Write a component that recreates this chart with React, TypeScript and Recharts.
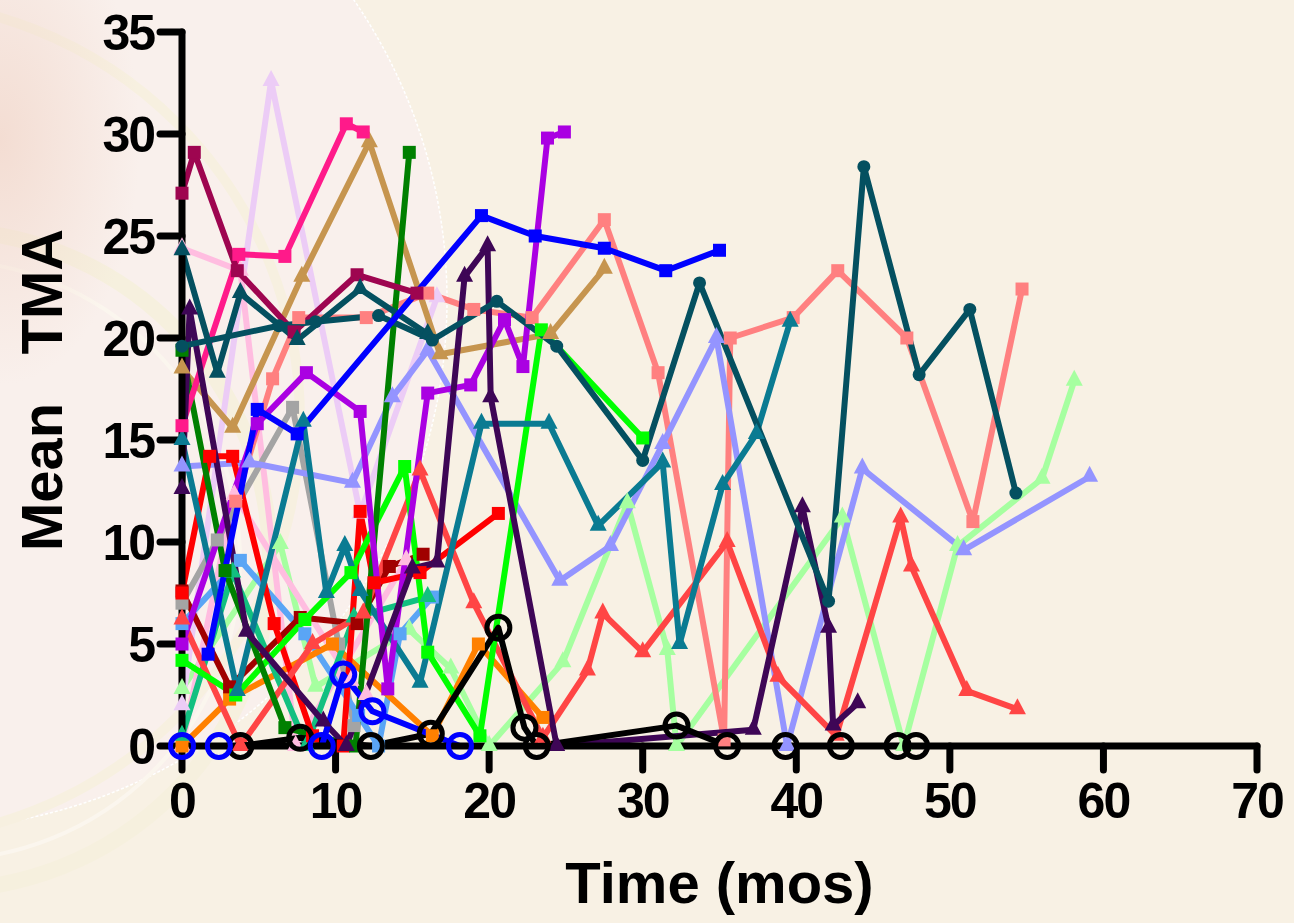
import React from 'react';
import { LineChart, Line, XAxis, YAxis, Label } from 'recharts';

type P = [number, number];

const xTicks = [0, 10, 20, 30, 40, 50, 60, 70];
const yTicks = [0, 5, 10, 15, 20, 25, 30, 35];
const xTitle = 'Time (mos)';
const yTitle = 'Mean\u00a0\u00a0\u00a0TMA';

// series values [time (mos), mean TMA]
const lightGreenTri: P[] = [[0, 2.8], [6.4, 9.9], [8.7, 2.9], [14.8, 5.7], [17.5, 3.8], [20, 0], [24.8, 4.1], [29, 11.9], [31.6, 4.7], [32.2, 0], [43, 11.2], [47, 0], [50.5, 9.8], [56, 13.1], [58.1, 17.9]];
const lavenderTri: P[] = [[0, 2], [5.8, 32.6], [11.6, 11.4], [16.6, 22]];
const lightPinkTriA: P[] = [[0, 24.4], [3.8, 23.3], [7.4, 0], [14.6, 9.1]];
const lightPinkTriB: P[] = [[0, 0], [3.4, 12.3], [11, 3.2], [12, 2.5]];
const grayHex: P[] = [[0, 7], [2.3, 10.1], [7.2, 16.6], [10.2, 5], [11.2, 1]];
const salmonSq: P[] = [[3.5, 12], [5.9, 18], [7.6, 21], [12, 21], [16, 22.2], [19, 21.4], [22.8, 21], [27.5, 25.8], [31, 18.3], [35.3, 0.3], [35.7, 20], [39.8, 21], [42.7, 23.3], [47.2, 20], [51.5, 11], [54.7, 22.4]];
const periwinkleTri: P[] = [[0, 13.7], [4.4, 13.9], [11.1, 12.9], [13.7, 17.1], [16, 19.4], [24.6, 8.1], [27.9, 9.8], [31.3, 14.8], [34.8, 20], [39.4, 0], [44.3, 13.6], [50.9, 9.6], [59.1, 13.2]];
const skyBlueSq: P[] = [[0, 6], [3.8, 9.1], [8, 5.5], [11.5, 1.5], [12.8, 0], [14.2, 5.5], [16.3, 7.3]];
const orangeSq: P[] = [[0, 0], [3.1, 2.3], [9.8, 5], [16.3, 0.5], [19.3, 5], [23.5, 1.4]];
const seaGreenTri: P[] = [[0, 0.5], [3.3, 8.5], [8.1, 0], [11.2, 6.3], [16, 7.3]];
const darkRedSq: P[] = [[0, 7.6], [3.1, 2.9], [7.7, 6.3], [11.4, 6], [13.5, 8.8], [15.7, 9.4]];
const redSq: P[] = [[0, 7.5], [1.8, 14.2], [3.3, 14.2], [6, 6], [8.5, 0.5], [10.5, 0], [11.6, 11.5], [12.5, 8], [15.5, 8.5], [20.6, 11.4]];
const coralTri: P[] = [[0, 6.2], [3.8, 0], [8.5, 5], [11.8, 6.5], [15.5, 13.5], [19, 7], [23.5, 0.4], [26.4, 3.7], [27.4, 6.5], [30, 4.6], [35.5, 10], [38.8, 3.4], [42.6, 0.5], [46.8, 11.2], [47.5, 8.8], [51.1, 2.7], [54.4, 1.8]];
const brightGreenSq: P[] = [[0, 4.2], [3.5, 2.5], [8, 6.2], [11, 8.5], [14.5, 13.7], [16, 4.6], [19.4, 0.5], [23.4, 20.4], [30, 15.1]];
const tealTri: P[] = [[0, 15], [3.6, 2.7], [7.9, 15.9], [9.4, 7.5], [10.6, 9.8], [11.6, 7.6], [15.5, 3.1], [19.5, 15.8], [23.9, 15.8], [27.1, 10.8], [31.3, 13.9], [32.4, 5], [35.2, 12.8], [37.4, 15.3], [39.6, 20.8]];
const tanTri: P[] = [[0, 18.5], [3.3, 15.6], [7.8, 23], [12.2, 29.6], [16.8, 19.2], [24, 20.2], [27.5, 23.4]];
const darkGreenSq: P[] = [[0, 19.4], [2.8, 8.6], [6.7, 0.9], [11.3, 0], [14.8, 29.1]];
const deepPinkSq: P[] = [[0, 15.7], [3.7, 24.1], [6.7, 24.0], [10.7, 30.5], [11.8, 30.1]];
const maroonSq: P[] = [[0, 27.1], [0.8, 29.1], [3.6, 23.3], [7.3, 20.3], [11.4, 23.1], [15.3, 22.2]];
const purpleSq: P[] = [[0, 5], [4.9, 15.8], [8.1, 18.3], [11.6, 16.4], [13.4, 2.8], [16, 17.3], [18.8, 17.7], [21, 20.9], [22.2, 18.6], [23.8, 29.8], [24.9, 30.1]];
const darkPurpleTri: P[] = [[0, 12.6], [0.5, 21.4], [4.2, 5.6], [9.2, 1.2], [10.7, 0], [15, 8.7], [16.6, 9], [18.4, 23], [19.9, 24.5], [20.1, 17.1], [24.4, 0], [37.2, 0.8], [40.4, 11.7], [42.1, 5.8], [42.4, 1], [44, 2.1]];
const darkTealTri: P[] = [[0, 24.3], [2.3, 18.3], [3.8, 22.2], [7.5, 19.9], [11.6, 22.4], [16, 20.2]];
const darkTealDot: P[] = [[0, 19.6], [6.3, 20.6], [8.7, 20.8], [12.8, 21.1], [16.3, 19.9], [20.5, 21.8], [24.4, 19.6], [30, 14], [33.7, 22.7], [42.1, 7.1], [44.4, 28.4], [48, 18.2], [51.3, 21.4], [54.3, 12.4]];
const blueSq: P[] = [[1.7, 4.5], [4.9, 16.5], [7.5, 15.3], [19.5, 26], [23, 25], [27.5, 24.4], [31.5, 23.3], [35, 24.3]];
const blackOpen: P[] = [[3.8, 0], [7.7, 0.4], [12.3, 0], [16.2, 0.6], [20.6, 5.8], [22.3, 0.9], [23.1, 0], [32.2, 1], [35.5, 0], [39.3, 0], [42.9, 0], [46.6, 0], [47.8, 0]];
const blueOpen: P[] = [[0, 0], [2.4, 0], [9.1, 0], [10.5, 3.5], [12.4, 1.7], [18.1, 0]];

type Shape = 'square' | 'triangle' | 'circle' | 'open';

const series: { name: string; pts: P[]; color: string; shape: Shape }[] = [
  { name: 'lightGreen', pts: lightGreenTri, color: '#a6ffa0', shape: 'triangle' },
  { name: 'lavender', pts: lavenderTri, color: '#ecccf6', shape: 'triangle' },
  { name: 'lightPinkA', pts: lightPinkTriA, color: '#ffbde0', shape: 'triangle' },
  { name: 'lightPinkB', pts: lightPinkTriB, color: '#ffbde0', shape: 'triangle' },
  { name: 'gray', pts: grayHex, color: '#a4a4a4', shape: 'square' },
  { name: 'salmon', pts: salmonSq, color: '#ff8080', shape: 'square' },
  { name: 'periwinkle', pts: periwinkleTri, color: '#9494ff', shape: 'triangle' },
  { name: 'skyBlue', pts: skyBlueSq, color: '#5aa5f5', shape: 'square' },
  { name: 'orange', pts: orangeSq, color: '#ff8000', shape: 'square' },
  { name: 'seaGreen', pts: seaGreenTri, color: '#12c080', shape: 'triangle' },
  { name: 'darkRed', pts: darkRedSq, color: '#a00000', shape: 'square' },
  { name: 'red', pts: redSq, color: '#ff0000', shape: 'square' },
  { name: 'coral', pts: coralTri, color: '#ff4545', shape: 'triangle' },
  { name: 'brightGreen', pts: brightGreenSq, color: '#00ff00', shape: 'square' },
  { name: 'teal', pts: tealTri, color: '#0a7b92', shape: 'triangle' },
  { name: 'tan', pts: tanTri, color: '#c6954f', shape: 'triangle' },
  { name: 'darkGreen', pts: darkGreenSq, color: '#008000', shape: 'square' },
  { name: 'deepPink', pts: deepPinkSq, color: '#ff1a8a', shape: 'square' },
  { name: 'maroon', pts: maroonSq, color: '#9e0550', shape: 'square' },
  { name: 'purple', pts: purpleSq, color: '#aa00e2', shape: 'square' },
  { name: 'darkPurple', pts: darkPurpleTri, color: '#3e0656', shape: 'triangle' },
  { name: 'darkTealTri', pts: darkTealTri, color: '#045060', shape: 'triangle' },
  { name: 'darkTealDot', pts: darkTealDot, color: '#045060', shape: 'circle' },
  { name: 'blue', pts: blueSq, color: '#0000ff', shape: 'square' },
  { name: 'black', pts: blackOpen, color: '#000000', shape: 'open' },
  { name: 'blueOpen', pts: blueOpen, color: '#0000ff', shape: 'open' },
];

const FONT = '"Liberation Sans", Arial, Helvetica, sans-serif';

function makeDot(shape: Shape, color: string) {
  return (props: any) => {
    const { cx, cy, index } = props;
    const k = `d-${index}`;
    if (cx == null || cy == null) return <g key={k} />;
    if (shape === 'square') return <rect key={k} x={cx - 6.5} y={cy - 6.5} width={13} height={13} fill={color} />;
    if (shape === 'triangle')
      return <polygon key={k} points={`${cx},${cy - 11} ${cx + 8.5},${cy + 5} ${cx - 8.5},${cy + 5}`} fill={color} />;
    if (shape === 'circle') return <circle key={k} cx={cx} cy={cy} r={6.5} fill={color} />;
    return <circle key={k} cx={cx} cy={cy} r={11.5} fill="none" stroke={color} strokeWidth={5} />;
  };
}

const axisStroke = { stroke: '#000', strokeWidth: 7, strokeLinecap: 'round' as const };
const tickStyle = { fill: '#000', fontSize: 50, fontWeight: 700, fontFamily: FONT, letterSpacing: -2 };

export default function App() {
  return (
    <div style={{ position: 'absolute', left: 0, top: 0, width: 1294, height: 923, background: '#f8f1e4', overflow: 'hidden' }}>
      <svg width={1294} height={923} style={{ position: 'absolute', left: 0, top: 0 }}>
        <defs>
          <radialGradient id="bgPink" cx="0" cy="0.2" r="0.35">
            <stop offset="0%" stopColor="#f2d8cc" stopOpacity={0.8} />
            <stop offset="100%" stopColor="#f2d8cc" stopOpacity={0} />
          </radialGradient>
        </defs>
        <circle cx={-83} cy={300} r={530} fill="#f9f0ec" stroke="#ffffff" strokeWidth={1.5} strokeDasharray="3 2" />
        <circle cx={-60} cy={560} r={330} fill="none" stroke="#f6f0de" strokeWidth={16} />
        <circle cx={-60} cy={560} r={300} fill="none" stroke="#fbf6ee" strokeWidth={4} />
        <circle cx={-120} cy={420} r={420} fill="none" stroke="#f7f0e0" strokeWidth={10} />
        <rect x={0} y={0} width={400} height={700} fill="url(#bgPink)" />
      </svg>
      <div style={{ position: 'absolute', left: 0, top: 0 }}>
        <LineChart width={1294} height={923} margin={{ top: 32, right: 37, bottom: 0, left: 0 }}>
          <XAxis
            dataKey="x"
            type="number"
            domain={[0, 70]}
            ticks={xTicks}
            height={177}
            tickSize={24}
            tickMargin={12}
            axisLine={axisStroke}
            tickLine={axisStroke}
            tick={tickStyle}
            allowDuplicatedCategory={false}
          >
            <Label
              value={xTitle}
              position="insideBottom"
              offset={20}
              style={{ fill: '#000', fontSize: 58, fontWeight: 700, fontFamily: FONT }}
            />
          </XAxis>
          <YAxis
            dataKey="y"
            type="number"
            domain={[0, 35]}
            ticks={yTicks}
            width={182}
            tickSize={22}
            tickMargin={6}
            axisLine={axisStroke}
            tickLine={axisStroke}
            tick={tickStyle}
          >
            <Label
              content={() => (
                <text
                  x={62}
                  y={390}
                  transform="rotate(-90 62 390)"
                  textAnchor="middle"
                  style={{ fill: '#000', fontSize: 58, fontWeight: 700, fontFamily: FONT }}
                >
                  {yTitle}
                </text>
              )}
            />
          </YAxis>
          {series.map((s) => (
            <Line
              key={s.name}
              data={s.pts.map(([x, y]) => ({ x, y }))}
              dataKey="y"
              type="linear"
              stroke={s.color}
              strokeWidth={6}
              strokeLinejoin="round"
              dot={makeDot(s.shape, s.color)}
              activeDot={false}
              isAnimationActive={false}
              legendType="none"
            />
          ))}
        </LineChart>
      </div>
    </div>
  );
}
